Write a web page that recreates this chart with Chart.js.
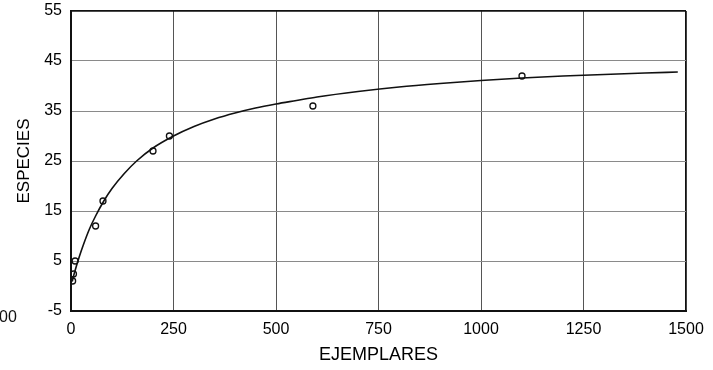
<!DOCTYPE html>
<html>
<head>
<meta charset="utf-8">
<script src="https://cdn.jsdelivr.net/npm/chart.js@4/dist/chart.umd.min.js"></script>
<style>
  html, body { margin: 0; padding: 0; background: #fff; }
  #wrap { width: 713px; height: 370px; position: relative; }
</style>
</head>
<body>
<div id="wrap"><canvas id="myChart"></canvas></div>
<script>
// observed samples (ejemplares vs especies)
var ejemplares = [4, 6, 10, 60, 78, 200, 240, 590, 1100];
var especies = [1, 2.4, 5, 12, 17, 27, 30, 36, 42];

// fitted curve
var curvaX = [3, 5, 10, 20, 30, 45, 60, 80, 100, 130, 160, 200, 250, 300, 350, 400, 450, 500, 550, 600, 700, 800, 900, 1000, 1100, 1200, 1300, 1400, 1480];
var curvaY = [0.9, 1.6, 3.1, 5.8, 8.2, 11.4, 14.0, 17.0, 19.5, 22.5, 25.0, 27.6, 30.0, 31.9, 33.4, 34.6, 35.6, 36.4, 37.1, 37.8, 38.9, 39.8, 40.5, 41.1, 41.6, 42.0, 42.3, 42.6, 42.8];

var xTicks = [0, 250, 500, 750, 1000, 1250, 1500];
var yTicks = [-5, 5, 15, 25, 35, 45, 55];

var puntos = [];
for (i = 0; i < ejemplares.length; i++) {
    puntos.push({ x: ejemplares[i], y: especies[i] })
}
var curva = [];
for (i = 0; i < curvaX.length; i++) {
    curva.push({ x: curvaX[i], y: curvaY[i] })
}

var fuente = "Arial, 'Liberation Sans', sans-serif";

// bit of the neighbouring chart's label that shows at the left edge
var restoTexto = {
    id: 'restoTexto',
    afterDraw: function (chart) {
        var c = chart.ctx;
        c.save();
        c.fillStyle = '#111';
        c.font = '16px ' + fuente;
        c.textBaseline = 'middle';
        c.textAlign = 'left';
        c.fillText('00', -1, 318);
        c.restore();
    }
};

var ctx = document.getElementById('myChart').getContext('2d');
var grafico = new Chart(ctx, {
    type: 'scatter',
    data: {
        datasets: [{
            label: 'Curva',
            type: 'line',
            data: curva,
            borderColor: '#111',
            borderWidth: 1.6,
            pointRadius: 0,
            cubicInterpolationMode: 'monotone',
            fill: false
        }, {
            label: 'Especies',
            data: puntos,
            pointRadius: 3,
            pointBorderWidth: 1.3,
            pointBorderColor: '#111',
            pointBackgroundColor: 'rgba(255,255,255,0)'
        }]
    },
    options: {
        responsive: true,
        maintainAspectRatio: false,
        animation: false,
        layout: { padding: { top: 11, right: 27, left: 0, bottom: 0 } },
        plugins: {
            legend: { display: false },
            tooltip: { enabled: false }
        },
        scales: {
            x: {
                type: 'linear',
                min: 0,
                max: 1500,
                afterBuildTicks: function (axis) {
                    axis.ticks = xTicks.map(function (v) { return { value: v }; });
                },
                afterFit: function (axis) { axis.height = 59; },
                ticks: {
                    color: '#000',
                    padding: 9,
                    maxRotation: 0,
                    font: { family: fuente, size: 16 },
                    callback: function (v) { return String(v); }
                },
                grid: {
                    drawTicks: false,
                    color: function (c) { return c.tick && c.tick.value === 1500 ? '#111' : '#555'; },
                    lineWidth: function (c) { return c.tick && c.tick.value === 1500 ? 1.8 : 1; }
                },
                border: { display: true, color: '#111', width: 2 },
                title: {
                    display: true,
                    text: 'EJEMPLARES',
                    color: '#000',
                    font: { family: fuente, size: 18 },
                    padding: { top: 0, bottom: 4 }
                }
            },
            y: {
                type: 'linear',
                min: -5,
                max: 55,
                afterBuildTicks: function (axis) {
                    axis.ticks = yTicks.map(function (v) { return { value: v }; });
                },
                afterFit: function (axis) {
                    axis.width = 71;
                    axis.paddingTop = 0;
                    axis.paddingBottom = 0;
                },
                ticks: {
                    color: '#000',
                    padding: 9,
                    font: { family: fuente, size: 16 }
                },
                grid: {
                    drawTicks: false,
                    color: function (c) { return c.tick && c.tick.value === 55 ? '#111' : '#8a8a8a'; },
                    lineWidth: function (c) { return c.tick && c.tick.value === 55 ? 1.8 : 1; }
                },
                border: { display: true, color: '#111', width: 2 },
                title: {
                    display: true,
                    text: 'ESPECIES',
                    color: '#000',
                    font: { family: fuente, size: 17 },
                    padding: { top: 14, bottom: 0 }
                }
            }
        }
    },
    plugins: [restoTexto]
});
</script>
</body>
</html>
